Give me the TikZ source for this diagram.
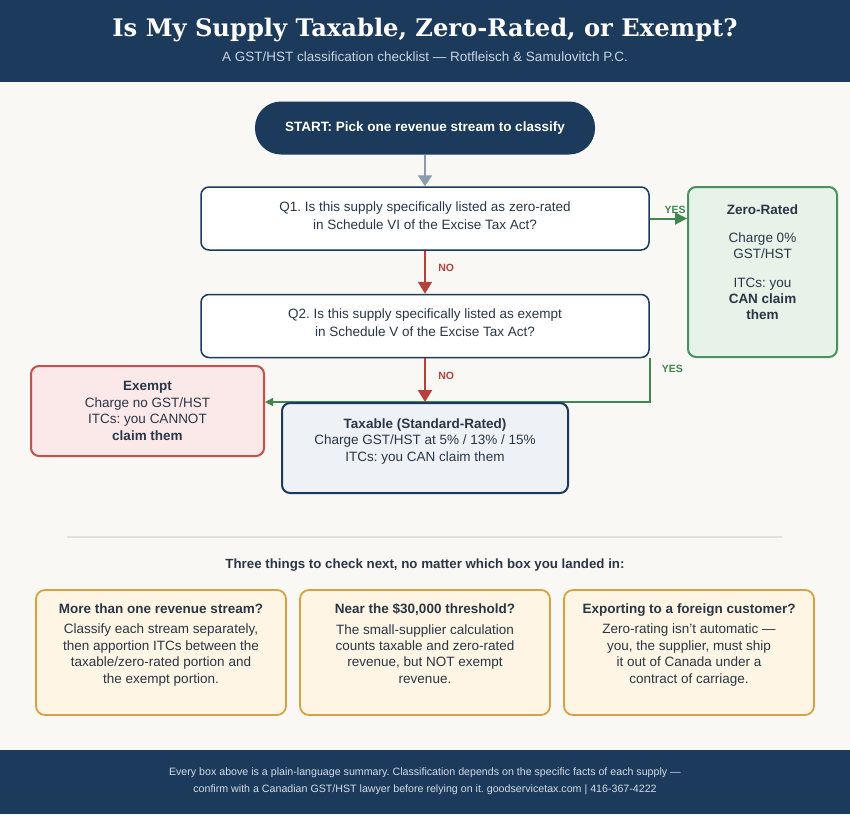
\documentclass[tikz,border=0pt]{standalone}
\usepackage{fontspec}
\setmainfont{Liberation Sans}
\newfontfamily\titlefont{DejaVu Serif}
\usetikzlibrary{arrows.meta}
\definecolor{navy}{HTML}{1B3A5C}
\definecolor{cream}{HTML}{FAF8F4}
\definecolor{ink}{HTML}{2A3645}
\definecolor{arrowgray}{HTML}{8C9BAD}
\definecolor{nored}{HTML}{B5403C}
\definecolor{yesgreen}{HTML}{3F8650}
\definecolor{zerofill}{HTML}{E7F2E9}
\definecolor{zeroline}{HTML}{4A9160}
\definecolor{exfill}{HTML}{FBE9E9}
\definecolor{exline}{HTML}{C5504C}
\definecolor{taxfill}{HTML}{EEF1F6}
\definecolor{tipfill}{HTML}{FEF5E4}
\definecolor{tipline}{HTML}{D9A23E}
\definecolor{subgray}{HTML}{C9D4E2}
\definecolor{footgray}{HTML}{D5DCE5}
\definecolor{sepgray}{HTML}{E3E1DC}
\newcommand{\bodyfont}{\fontsize{13.5}{18}\selectfont}
\newcommand{\tipfont}{\fontsize{13.5}{16.4}\selectfont}
\frenchspacing

\begin{document}
\begin{tikzpicture}[x=1pt,y=-1pt,
    qbox/.style={draw=navy,line width=1.5pt,fill=white,rounded corners=8pt,
      minimum width=448pt,minimum height=63pt,align=center,text=ink,font=\bodyfont,text depth=6pt},
    resbox/.style={line width=2pt,rounded corners=8pt,align=center,text=ink,font=\tipfont},
    tipbox/.style={draw=tipline,line width=1.8pt,fill=tipfill,rounded corners=9pt,
      minimum width=250pt,minimum height=125pt},
    tiptext/.style={anchor=north,align=center,text=ink,font=\tipfont,inner sep=0pt},
    yeslabel/.style={text=yesgreen,font=\fontsize{10.5}{12}\selectfont\bfseries},
    nolabel/.style={text=nored,font=\fontsize{10.5}{12}\selectfont\bfseries},
    graytip/.style={-{Triangle[length=11pt,width=14pt]}},
    tip/.style={-{Triangle[length=12pt,width=14pt]}},
    yestip/.style={-{Triangle[length=12pt,width=12pt]}},
    smalltip/.style={-{Triangle[length=8pt,width=8pt]}}]
     \useasboundingbox (0,0) rectangle (850,814);
     \fill[cream] (0,0) rectangle (850,814);
     \fill[navy] (0,0) rectangle (850,82);
     \fill[navy] (0,750) rectangle (850,814);
     \node[text=white,font=\titlefont\fontsize{24.2}{28}\selectfont\bfseries] (title) at (425,30) {Is My Supply Taxable, Zero-Rated, or Exempt?};
     \node[text=subgray,font=\fontsize{13.5}{16}\selectfont] (subtitle) at (425,57) {A GST/HST classification checklist — Rotfleisch \& Samulovitch P.C.};
     % flowchart
     \node[fill=navy,rounded corners=26pt,minimum width=340pt,minimum height=53pt,
       text=white,font=\fontsize{13.5}{16}\selectfont\bfseries] (start) at (425,128) {START: Pick one revenue stream to classify};
     \node[qbox] (q1) at (425,218.5) {Q1. Is this supply specifically listed as zero-rated\\in Schedule VI of the Excise Tax Act?};
     \node[qbox] (q2) at (425,326) {Q2. Is this supply specifically listed as exempt\\in Schedule V of the Excise Tax Act?};
     \node[resbox,draw=zeroline,fill=zerofill,minimum width=149pt,minimum height=170pt] (zero) at (762.5,272) {};
     \node[tiptext] (zerotxt) at (762.5,205) {\textbf{Zero-Rated}\\[11pt]Charge 0\%\\GST/HST\\[12pt]ITCs: you\\\textbf{CAN claim}\\\textbf{them}};
     \node[resbox,draw=exline,fill=exfill,minimum width=233pt,minimum height=90pt] (exempt) at (147.5,411) {\textbf{Exempt}\\Charge no GST/HST\\ITCs: you CANNOT\\\textbf{claim them}};
     \draw[yesgreen,line width=1.5pt,smalltip] (q2.south east) |- ([yshift=9pt]exempt.east) node[pos=0.12,right=8pt,yeslabel] (yes2) {YES};
     \node[resbox,draw=navy,fill=taxfill,minimum width=286pt,minimum height=90pt,text depth=16pt] (taxable) at (425,448) {\textbf{Taxable (Standard-Rated)}\\Charge GST/HST at 5\% / 13\% / 15\%\\ITCs: you CAN claim them};
     \draw[arrowgray,line width=2pt,graytip] (start) -- (q1);
     \draw[nored,line width=2pt,tip] (q1) -- node[nolabel,pos=0.4,right=9pt] (no1) {NO} (q2);
     \draw[nored,line width=2pt,tip] (q2) -- node[nolabel,pos=0.4,right=9pt] (no2) {NO} (taxable);
     \draw[yesgreen,line width=2pt,yestip] (q1.east) -- (q1.east -| zero.west) node[pos=0.68,above=1pt,yeslabel] (yes1) {YES};
     % checklist
     \draw[sepgray,line width=1.5pt] (67,537) -- (782,537);
     \node[text=ink,font=\fontsize{13.3}{16}\selectfont\bfseries] (checkhead) at (425,565.5) {Three things to check next, no matter which box you landed in:};
     \node[tipbox] (tipA) at (161,652.5) {};
     \node[tipbox] (tipB) at (425,652.5) {};
     \node[tipbox] (tipC) at (689,652.5) {};
     \node[tiptext] (tipAtxt) at (161,603.5) {\textbf{More than one revenue stream?}\\[4pt]Classify each stream separately,\\then apportion ITCs between the\\taxable/zero-rated portion and\\the exempt portion.};
     \node[tiptext] (tipBtxt) at (425,603.5) {\textbf{Near the \$30,000 threshold?}\\[4pt]The small-supplier calculation\\counts taxable and zero-rated\\revenue, but NOT exempt\\revenue.};
     \node[tiptext] (tipCtxt) at (689,603.5) {\textbf{Exporting to a foreign customer?}\\[4pt]Zero-rating isn't automatic —\\you, the supplier, must ship\\it out of Canada under a\\contract of carriage.};
     % footer
     \node[text=footgray,align=center,font=\fontsize{10.65}{17}\selectfont] (foot) at (425,781) {Every box above is a plain-language summary. Classification depends on the specific facts of each supply —\\confirm with a Canadian GST/HST lawyer before relying on it. goodservicetax.com | 416-367-4222};
    \end{tikzpicture}
\end{document}
